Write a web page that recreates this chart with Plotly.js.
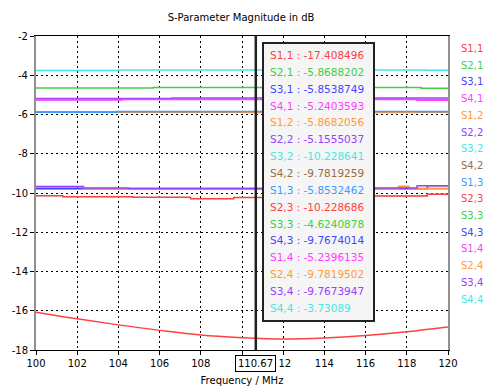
<!DOCTYPE html>
<html>
<head>
<meta charset="utf-8">
<script src="https://cdn.plot.ly/plotly-3.0.1.min.js"></script>
<style>html,body{margin:0;padding:0;background:#fff;}#chart{width:488px;height:388px;}</style>
</head>
<body>
<div id="chart"></div>
<script>
// ---- data ----
const seriesNames = ['S1,1','S2,1','S3,1','S4,1','S1,2','S2,2','S3,2','S4,2','S1,3','S2,3','S3,3','S4,3','S1,4','S2,4','S3,4','S4,4'];
const seriesColors = ['#ff4040','#3fcf3f','#4545ff','#ff40ff','#ff9940','#9940ff','#3fe8e8','#9c6c40','#4099ff','#ff4040','#3fcf3f','#4545ff','#ff40ff','#ff9940','#9940ff','#3fe8e8'];

const s11_f = [100,102,104,106,108,110,112,114,116,118,120];
const s11_db = [-16.07,-16.41,-16.72,-17.0,-17.24,-17.37,-17.44,-17.39,-17.26,-17.07,-16.83];
const s21_f = [100,120];             const s21_db = [-5.87,-5.87];
const s31_f = [100,120];             const s31_db = [-5.855,-5.855];
const s41_f = [100,104.2,106.6,118.5,120]; const s41_db = [-5.26,-5.20,-5.22,-5.28,-5.28];
const s12_f = [100,110,118.5,120];   const s12_db = [-5.87,-5.90,-5.87,-5.87];
const s22_f = [100,106.6,120];       const s22_db = [-5.19,-5.155,-5.155];
const s32_f = [100,101.3,104.7,107.5,109.6,116.2,119,120];
const s32_db = [-10.14,-10.19,-10.22,-10.29,-10.229,-10.15,-10.06,-10.06];
const s42_f = [100,119,120];         const s42_db = [-9.78,-9.63,-9.63];
const s13_f = [100,103.9,120];       const s13_db = [-5.88,-5.853,-5.853];
const s23_f = [100,101.3,104.7,107.5,109.6,116.2,119,120];
const s23_db = [-10.14,-10.19,-10.22,-10.29,-10.229,-10.15,-10.06,-10.06];
const s33_f = [100,105.7,118.7,120]; const s33_db = [-4.65,-4.624,-4.66,-4.66];
const s43_f = [100,120];             const s43_db = [-9.767,-9.767];
const s14_f = [100,120];             const s14_db = [-5.24,-5.24];
const s24_f = [100,102.3,117.6,118.1,120]; const s24_db = [-9.66,-9.78,-9.66,-9.78,-9.78];
const s34_f = [100,102.3,104.5,116.5,118.5,120]; const s34_db = [-9.68,-9.745,-9.767,-9.745,-9.63,-9.63];
const s44_f = [100,104,119,120];     const s44_db = [-3.76,-3.731,-3.75,-3.75];

const markerFreq = 110.67;
const markerLabel = '110.67';
const readoutValues = ['-17.408496','-5.8688202','-5.8538749','-5.2403593','-5.8682056','-5.1555037','-10.228641','-9.7819259','-5.8532462','-10.228686','-4.6240878','-9.7674014','-5.2396135','-9.7819502','-9.7673947','-3.73089'];

const yTickVals = [-2,-4,-6,-8,-10,-12,-14,-16,-18];
const yTickText = ['-2','-4','-6','-8','-10','-12','-14','-16','-18'];
const xTickVals = [100,102,104,106,108,110,112,114,116,118,120];
// the 110 label sits under the marker readout box, which also hides the first digit of 112
const xTickText = ['100','102','104','106','108','','\u00a012','114','116','118','120'];

// ---- build ----
const allF = [s11_f,s21_f,s31_f,s41_f,s12_f,s22_f,s32_f,s42_f,s13_f,s23_f,s33_f,s43_f,s14_f,s24_f,s34_f,s44_f];
const allDb = [s11_db,s21_db,s31_db,s41_db,s12_db,s22_db,s32_db,s42_db,s13_db,s23_db,s33_db,s43_db,s14_db,s24_db,s34_db,s44_db];

const traces = seriesNames.map((n,i) => ({
  x: allF[i], y: allDb[i], name: n, type: 'scatter', mode: 'lines',
  line: {color: seriesColors[i], width: (i === 6 ? 1 : 1.5), shape: i === 0 ? 'spline' : 'hv'},
  hoverinfo: 'skip'
}));

const font = 'DejaVu Sans';
const L = 36, R = 40, T = 36, B = 38, W = 488, H = 388;
const pw = W - L - R, ph = H - T - B;
const px2x = p => (p - L) / pw;
const py2y = p => (H - B - p) / ph;

const annotations = [];
seriesNames.forEach((n,i) => {
  annotations.push({
    xref: 'paper', yref: 'paper', x: px2x(268), y: py2y(55 + i*16.85),
    xanchor: 'left', yanchor: 'middle', showarrow: false,
    text: n + ' : ' + readoutValues[i],
    font: {family: font, size: 10.5, color: seriesColors[i]}
  });
  annotations.push({
    xref: 'paper', yref: 'paper', x: px2x(459), y: py2y(48.5 + i*16.7),
    xanchor: 'left', yanchor: 'middle', showarrow: false,
    text: n, font: {family: font, size: 10, color: seriesColors[i]}
  });
});
annotations.push({
  xref: 'x', yref: 'paper', x: markerFreq, y: 0, yshift: -5,
  xanchor: 'center', yanchor: 'top', showarrow: false,
  text: markerLabel, font: {family: font, size: 10, color: '#000'},
  bgcolor: '#ffffff', bordercolor: '#000', borderwidth: 1, borderpad: 2
});

const shapes = [
  {type: 'line', xref: 'x', yref: 'paper', x0: markerFreq, x1: markerFreq, y0: 0, y1: 1,
   line: {color: '#222', width: 2.5}},
  {type: 'rect', xref: 'paper', yref: 'paper', x0: px2x(263), x1: px2x(374), y0: py2y(321), y1: py2y(43),
   line: {color: '#222', width: 2}, fillcolor: '#f5f5f5'}
];

const layout = {
  width: W, height: H,
  margin: {l: L, r: R, t: T, b: B, pad: 0},
  paper_bgcolor: '#fff', plot_bgcolor: '#fff',
  showlegend: false,
  font: {family: font, size: 10, color: '#000'},
  title: {text: 'S-Parameter Magnitude in dB', x: 0.494, xanchor: 'center', y: 1 - 17/H, yanchor: 'middle',
          font: {family: font, size: 10, color: '#000'}},
  xaxis: {
    range: [100, 120], tickvals: xTickVals, ticktext: xTickText,
    showgrid: true, gridcolor: '#000', griddash: '2px,3px', gridwidth: 1,
    showline: true, linecolor: '#000', linewidth: 1, mirror: true,
    ticks: 'outside', ticklen: 4, tickcolor: '#000',
    zeroline: false, tickfont: {family: font, size: 10},
    title: {text: 'Frequency / MHz', standoff: 8, font: {family: font, size: 10}}
  },
  yaxis: {
    range: [-18, -2], tickvals: yTickVals, ticktext: yTickText,
    showgrid: true, gridcolor: '#000', griddash: '2px,3px', gridwidth: 1,
    showline: true, linecolor: '#909090', linewidth: 2, mirror: true,
    ticks: 'outside', ticklen: 4, tickcolor: '#000',
    zeroline: false, tickfont: {family: font, size: 10}
  },
  annotations: annotations,
  shapes: shapes
};

Plotly.newPlot('chart', traces, layout, {staticPlot: true, displayModeBar: false});
</script>
</body>
</html>
